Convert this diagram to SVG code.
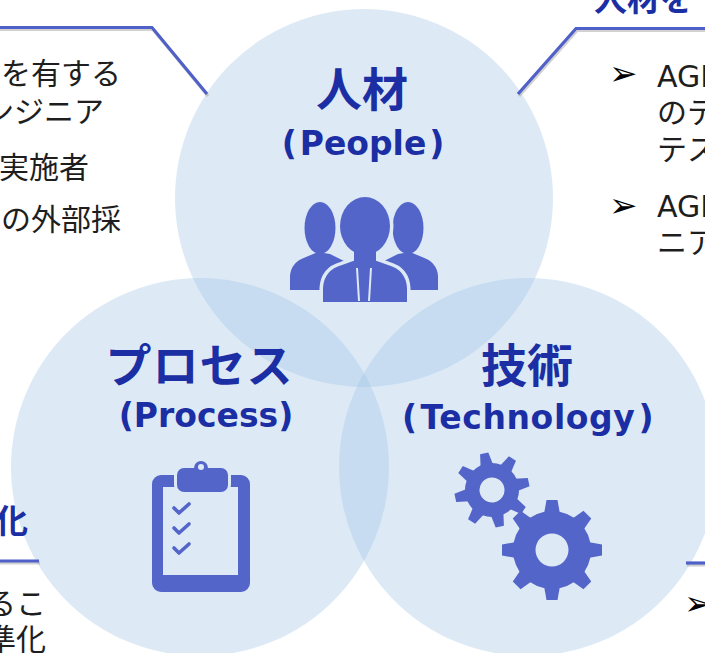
<svg xmlns="http://www.w3.org/2000/svg" width="705" height="653" viewBox="0 0 705 653">
<style>
.circ{fill:#9dc3e6;fill-opacity:0.35}
.h1{font-family:"DejaVu Sans","Noto Sans CJK JP",sans-serif;font-weight:700;font-size:46px;fill:#1b2ea4;text-anchor:middle}
.h2{font-family:"DejaVu Sans","Noto Sans CJK JP",sans-serif;font-weight:700;font-size:33px;fill:#1b2ea4;text-anchor:middle}
.ttl{font-family:"DejaVu Sans","Noto Sans CJK JP",sans-serif;font-weight:700;font-size:33px;fill:#1b2ea4}
.body{font-family:"DejaVu Sans","Noto Sans CJK JP",sans-serif;font-size:30px;fill:#1e1e1e}
.bul{font-family:"DejaVu Sans","Noto Sans CJK JP",sans-serif;font-size:34px;fill:#000}
.icon{fill:#5465c9}
.gap{fill:#5465c9;stroke:#ddeaf6;stroke-width:6;paint-order:stroke}
.bg{fill:#ddeaf6}
.line{fill:none;stroke:#4f60c8;stroke-width:3.2}
.shadow{fill:none;stroke:#9a9a9a;stroke-opacity:0.45;stroke-width:3.2}
.chk{fill:none;stroke:#5465c9;stroke-width:3.6;stroke-linecap:round;stroke-linejoin:round}
</style>
<defs>
<path id="btooth" d="M-8,-36 L-5.5,-50 L5.5,-50 L8,-36 Z"/>
<path id="stooth" d="M-6.5,-24 L-4.2,-37.5 L4.2,-37.5 L6.5,-24 Z"/>
</defs>
<rect width="705" height="653" fill="#ffffff"/>

<g id="people">
<circle class="circ" cx="364" cy="198" r="189"/>
<text class="h1" x="362" y="106">人材</text>
<text class="h2" x="363" y="155">(<tspan dx="3">People</tspan><tspan dx="3">)</tspan></text>
<g id="people-icon">
<ellipse class="icon" cx="320" cy="228" rx="15.5" ry="26"/>
<path class="icon" d="M290,290 L290,276 Q291,262 306,257 L318,252 L330,254 L346,262 L346,290 Z"/>
<ellipse class="icon" cx="408" cy="228" rx="15.5" ry="26"/>
<path class="icon" d="M438,290 L438,276 Q437,262 422,257 L410,252 L398,254 L382,262 L382,290 Z"/>
<g stroke="#ddeaf6" stroke-width="7" fill="#ddeaf6">
<ellipse cx="365" cy="226" rx="25" ry="29"/>
<rect x="354" y="245" width="22" height="20"/>
<path d="M323,302 L323,288 Q324,270 342,265 L356,260 L374,260 L388,265 Q406,270 407,288 L407,302 Z"/>
</g>
<ellipse class="icon" cx="365" cy="226" rx="25" ry="29"/>
<rect class="icon" x="354" y="245" width="22" height="20"/>
<path class="icon" d="M323,302 L323,288 Q324,270 342,265 L356,260 L374,260 L388,265 Q406,270 407,288 L407,302 Z"/>
<path d="M357,268 L359,301 M371,268 L369,301" stroke="#ddeaf6" stroke-width="2" fill="none"/>
</g>
</g>

<g id="process">
<circle class="circ" cx="200" cy="467" r="189"/>
<text class="h1" x="199" y="382" textLength="187" lengthAdjust="spacing">プロセス</text>
<text class="h2" x="206" y="427">(Process)</text>
<g id="process-icon">
<path class="icon" fill-rule="evenodd" d="M161,475 H241 A9,9 0 0 1 250,484 V583 A9,9 0 0 1 241,592 H161 A9,9 0 0 1 152,583 V484 A9,9 0 0 1 161,475 Z M163,487 V575 H238 V487 Z"/>
<path class="gap" stroke-width="4" d="M184,468 H194 A7,7 0 0 1 208,468 H221 A7,7 0 0 1 228,475 V485 A7,7 0 0 1 221,492 H184 A7,7 0 0 1 177,485 V475 A7,7 0 0 1 184,468 Z"/>
<circle class="bg" cx="201" cy="467" r="3"/>
<polyline class="chk" points="174,508 179,513 189,504"/>
<polyline class="chk" points="174,528 179,533 189,524"/>
<polyline class="chk" points="174,548 179,553 189,544"/>
</g>
</g>

<g id="technology">
<circle class="circ" cx="528" cy="467" r="189"/>
<text class="h1" x="527" y="382">技術</text>
<text class="h2" x="528" y="429" letter-spacing="0.6">(<tspan dx="3">Technology</tspan><tspan dx="3">)</tspan></text>
<g id="tech-icon" class="icon">
<g transform="translate(492,490) rotate(-12)">
<path fill-rule="evenodd" d="M-27,0 A27,27 0 1 0 27,0 A27,27 0 1 0 -27,0 Z M-12.5,0 A12.5,12.5 0 1 1 12.5,0 A12.5,12.5 0 1 1 -12.5,0 Z"/>
<use href="#stooth"/>
<use href="#stooth" transform="rotate(45)"/>
<use href="#stooth" transform="rotate(90)"/>
<use href="#stooth" transform="rotate(135)"/>
<use href="#stooth" transform="rotate(180)"/>
<use href="#stooth" transform="rotate(225)"/>
<use href="#stooth" transform="rotate(270)"/>
<use href="#stooth" transform="rotate(315)"/>
</g>
<g transform="translate(552,550)">
<path fill-rule="evenodd" d="M-39,0 A39,39 0 1 0 39,0 A39,39 0 1 0 -39,0 Z M-16.5,0 A16.5,16.5 0 1 1 16.5,0 A16.5,16.5 0 1 1 -16.5,0 Z"/>
<use href="#btooth"/>
<use href="#btooth" transform="rotate(45)"/>
<use href="#btooth" transform="rotate(90)"/>
<use href="#btooth" transform="rotate(135)"/>
<use href="#btooth" transform="rotate(180)"/>
<use href="#btooth" transform="rotate(225)"/>
<use href="#btooth" transform="rotate(270)"/>
<use href="#btooth" transform="rotate(315)"/>
</g>
</g>
</g>

<g id="connectors">
<polyline class="shadow" points="-5,29.5 153,29.5 208,96"/>
<polyline class="line" points="-5,27.5 152,27.5 207,94"/>
<polyline class="shadow" points="710,30.5 577,30.5 519,96"/>
<polyline class="line" points="710,28.5 576,28.5 518,94"/>
<line class="shadow" x1="-5" y1="563" x2="40" y2="563"/>
<line class="line" x1="-5" y1="561" x2="39" y2="561"/>
<line class="shadow" x1="687" y1="565" x2="710" y2="565"/>
<line class="line" x1="686" y1="563" x2="710" y2="563"/>
</g>

<g id="callout-top-left">
<text class="body" x="121" y="84" text-anchor="end">を有する</text>
<text class="body" x="104" y="122" text-anchor="end">ンジニア</text>
<text class="body" x="89" y="178" text-anchor="end">実施者</text>
<text class="body" x="121" y="230" text-anchor="end">の外部採</text>
</g>

<g id="callout-top-right">
<text class="ttl" x="594" y="11">人材を</text>
<text class="bul" x="609" y="85">➢</text>
<text class="body" x="657" y="87">AGI</text>
<text class="body" x="657" y="123">のテ</text>
<text class="body" x="657" y="160">テス</text>
<text class="bul" x="609" y="217">➢</text>
<text class="body" x="657" y="217">AGI</text>
<text class="body" x="657" y="253">ニア</text>
</g>

<g id="callout-bottom-left">
<text class="ttl" x="28" y="533" text-anchor="end">化</text>
<text class="body" x="46" y="614" text-anchor="end">るこ</text>
<text class="body" x="46" y="650" text-anchor="end">準化</text>
</g>

<g id="callout-bottom-right">
<text class="bul" x="684" y="615">➢</text>
</g>
</svg>
